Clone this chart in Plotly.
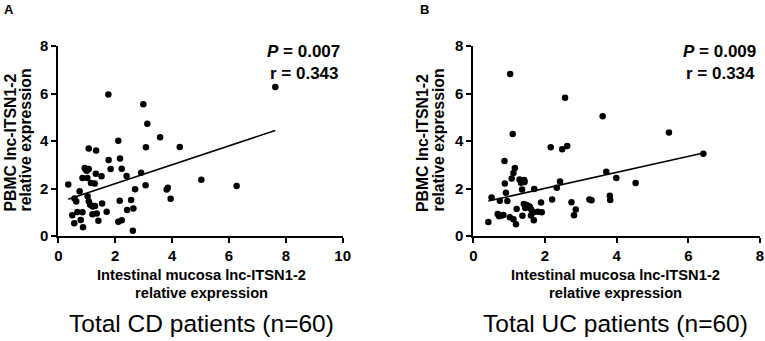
import numpy as np
import plotly.graph_objects as go

# Panel A: Total CD patients
cd_x = [7.63, 1.76, 2.99, 3.13, 3.58, 2.11, 3.08, 4.27, 1.07, 1.33, 2.17, 1.77, 0.93, 1.07, 1.00,
        1.84, 2.23, 0.85, 1.02, 1.32, 1.52, 2.40, 2.91, 1.15, 1.28, 0.35, 0.75, 2.70, 3.07, 3.81,
        3.85, 5.03, 6.27, 1.03, 0.57, 0.63, 1.07, 1.12, 1.21, 1.54, 2.16, 2.56, 3.95, 0.49, 0.67,
        0.85, 1.20, 1.35, 1.70, 2.42, 2.64, 0.56, 0.79, 1.41, 2.11, 2.23, 0.87, 2.62, 0.96, 1.29]
cd_y = [6.27, 5.96, 5.55, 4.73, 4.16, 4.01, 3.74, 3.75, 3.68, 3.60, 3.26, 3.20, 2.86, 2.82, 2.75,
        2.82, 2.83, 2.44, 2.44, 2.62, 2.52, 2.53, 2.66, 2.23, 2.21, 2.17, 1.88, 1.97, 2.14, 1.96,
        2.03, 2.37, 2.10, 1.67, 1.58, 1.45, 1.46, 1.32, 1.24, 1.37, 1.48, 1.52, 1.57, 0.87, 1.01,
        1.00, 0.92, 0.95, 1.02, 1.09, 1.16, 0.54, 0.67, 0.64, 0.60, 0.66, 0.37, 0.22, 2.80, 1.26]
cd_fit = {"slope": 0.398, "intercept": 1.41}
cd_stats = ("0.007", "0.343")

# Panel B: Total UC patients
uc_x = [1.03, 2.56, 1.10, 3.61, 5.46, 6.42, 2.16, 2.48, 2.62, 0.87, 1.16, 1.12, 1.07, 0.88, 1.29,
        1.36, 1.42, 1.33, 1.43, 3.71, 3.99, 4.53, 2.42, 2.33, 1.70, 1.36, 0.91, 0.51, 0.74, 0.95,
        2.20, 1.41, 1.49, 1.58, 1.45, 1.62, 1.89, 2.74, 3.24, 3.30, 3.81, 3.82, 2.86, 2.81, 1.21,
        1.68, 1.80, 1.91, 0.68, 0.72, 0.79, 0.84, 1.02, 1.37, 1.61, 1.69, 1.12, 1.19, 0.42, 1.55]
uc_y = [6.82, 5.82, 4.29, 5.04, 4.36, 3.46, 3.74, 3.65, 3.79, 3.16, 2.86, 2.65, 2.42, 2.21, 2.38,
        2.32, 2.36, 2.24, 2.27, 2.71, 2.44, 2.23, 2.29, 2.03, 1.98, 1.96, 1.82, 1.62, 1.48, 1.47,
        1.54, 1.35, 1.30, 1.22, 1.18, 1.11, 1.41, 1.42, 1.54, 1.50, 1.69, 1.52, 1.12, 0.87, 1.14,
        1.00, 1.02, 1.00, 0.93, 0.83, 0.86, 0.88, 0.79, 0.85, 0.86, 0.66, 0.70, 0.49, 0.59, 1.25]
uc_fit = {"slope": 0.337, "intercept": 1.33}
uc_stats = ("0.009", "0.334")

x_ticks_a = [0, 2, 4, 6, 8, 10]
x_ticks_b = [0, 2, 4, 6, 8]
y_ticks = [0, 2, 4, 6, 8]

W, H = 765, 341
FONT = "Liberation Sans, Arial, sans-serif"

def px(x):
    return x / W

def py(y):
    return (H - y) / H

fig = go.Figure()

panels = [
    (cd_x, cd_y, cd_fit, "x", "y"),
    (uc_x, uc_y, uc_fit, "x2", "y2"),
]
for xs, ys, fit, xa, ya in panels:
    fig.add_trace(go.Scatter(x=xs, y=ys, mode="markers", xaxis=xa, yaxis=ya,
                             marker=dict(color="black", size=6.5), showlegend=False,
                             hoverinfo="skip"))
    lx = np.array([min(xs), max(xs)])
    ly = fit["slope"] * lx + fit["intercept"]
    fig.add_trace(go.Scatter(x=lx, y=ly, mode="lines", xaxis=xa, yaxis=ya,
                             line=dict(color="black", width=1.6), showlegend=False,
                             hoverinfo="skip"))

axis_common = dict(showline=True, linecolor="black", linewidth=1.8, ticks="outside",
                   ticklen=5, tickwidth=1.6, tickcolor="black", showgrid=False,
                   zeroline=False, mirror=False, automargin=False,
                   tickfont=dict(family=FONT, size=15, color="black", weight="bold"))

ydom = [py(236), py(46)]
fig.update_layout(
    width=W, height=H, autosize=False, margin=dict(l=0, r=0, t=0, b=0, pad=0),
    paper_bgcolor="white", plot_bgcolor="white",
    xaxis=dict(domain=[px(58.3), px(342.7)], range=[0, 10], tickvals=x_ticks_a,
               anchor="y", **axis_common),
    yaxis=dict(domain=ydom, range=[0, 8], tickvals=y_ticks, anchor="x", **axis_common),
    xaxis2=dict(domain=[px(473.3), px(760)], range=[0, 8], tickvals=x_ticks_b,
                anchor="y2", **axis_common),
    yaxis2=dict(domain=ydom, range=[0, 8], tickvals=y_ticks, anchor="x2", **axis_common),
)

def ann(text, x, y, size, xanchor="center", bold=True, angle=0):
    fig.add_annotation(text=text, x=px(x), y=py(y), xref="paper", yref="paper",
                       showarrow=False, xanchor=xanchor, yanchor="middle", textangle=angle,
                       font=dict(family=FONT, size=size, color="black",
                                 weight="bold" if bold else "normal"))

x_title = ["Intestinal mucosa lnc-ITSN1-2", "relative expression"]
y_title = ["PBMC lnc-ITSN1-2", "relative expression"]

for (cx, letter, lx_, stats, name, yl1, yl2, right) in [
    (201, "A", 9, cd_stats, "Total CD patients (n=60)", 9.5, 24.5, 342),
    (615, "B", 424, uc_stats, "Total UC patients (n=60)", 422, 437.5, 758),
]:
    ann(letter, lx_, 10, 13)
    ann("<i>P</i> = " + stats[0], right, 52, 17, xanchor="right")
    ann("r = " + stats[1], right - 1, 73, 17, xanchor="right")
    ann(x_title[0], cx, 275, 14.7)
    ann(x_title[1], cx, 293, 14.7)
    ann(y_title[0], yl1, 143, 15.8, angle=-90)
    ann(y_title[1], yl2, 140, 15.8, angle=-90)
    ann(name, cx, 323, 24.5, bold=False)

fig.write_html("out.html", config={"displayModeBar": False},
               post_script="document.body.style.margin='0';document.body.style.overflow='hidden';")
